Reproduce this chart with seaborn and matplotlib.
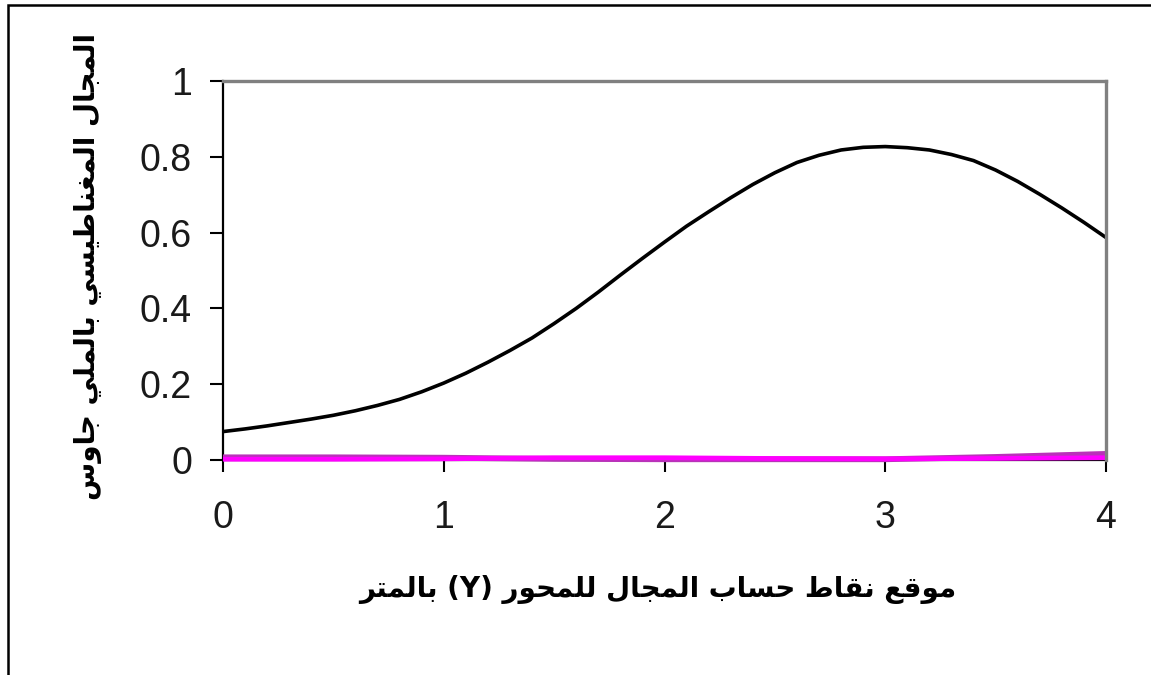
import numpy as np
import pandas as pd
import seaborn as sns
import matplotlib
matplotlib.use("Agg")
import matplotlib.pyplot as plt
from matplotlib.patches import Rectangle

# Position along the Y axis (m) and the computed magnetic field (mG)
y_pos = [0.0, 0.1, 0.2, 0.3, 0.4, 0.5, 0.6, 0.7, 0.8, 0.9, 1.0,
         1.1, 1.2, 1.3, 1.4, 1.5, 1.6, 1.7, 1.8, 1.9, 2.0,
         2.1, 2.2, 2.3, 2.4, 2.5, 2.6, 2.7, 2.8, 2.9, 3.0,
         3.1, 3.2, 3.3, 3.4, 3.5, 3.6, 3.7, 3.8, 3.9, 4.0]
field_total = [0.075, 0.082, 0.090, 0.099, 0.108, 0.118, 0.130, 0.144, 0.160, 0.180, 0.203,
               0.229, 0.258, 0.289, 0.322, 0.360, 0.400, 0.443, 0.488, 0.532, 0.575,
               0.617, 0.655, 0.692, 0.727, 0.758, 0.785, 0.804, 0.818, 0.825, 0.827,
               0.824, 0.818, 0.806, 0.790, 0.765, 0.735, 0.701, 0.665, 0.627, 0.587]

# Two small components that stay close to zero
comp_pos = [0.0, 0.5, 1.0, 1.5, 2.0, 2.5, 3.0, 3.5, 4.0]
field_b = [0.007, 0.007, 0.006, 0.003, 0.002, 0.002, 0.002, 0.008, 0.016]
field_c = [0.002, 0.002, 0.003, 0.006, 0.006, 0.004, 0.003, 0.004, 0.006]

x_ticks = [0, 1, 2, 3, 4]
y_ticks = [0, 0.2, 0.4, 0.6, 0.8, 1.0]
y_tick_labels = ["0", "0.2", "0.4", "0.6", "0.8", "1"]

x_title = "موقع نقاط حساب المجال للمحور (Y) بالمتر"
y_title = "المجال المغناطيسي بالملي جاوس"

# Arabic contextual forms: (isolated, final, initial, medial)
FORMS = {
    "ا": ("\uFE8D", "\uFE8E", None, None),
    "ب": ("\uFE8F", "\uFE90", "\uFE91", "\uFE92"),
    "ت": ("\uFE95", "\uFE96", "\uFE97", "\uFE98"),
    "ج": ("\uFE9D", "\uFE9E", "\uFE9F", "\uFEA0"),
    "ح": ("\uFEA1", "\uFEA2", "\uFEA3", "\uFEA4"),
    "ر": ("\uFEAD", "\uFEAE", None, None),
    "س": ("\uFEB1", "\uFEB2", "\uFEB3", "\uFEB4"),
    "ط": ("\uFEC1", "\uFEC2", "\uFEC3", "\uFEC4"),
    "ع": ("\uFEC9", "\uFECA", "\uFECB", "\uFECC"),
    "غ": ("\uFECD", "\uFECE", "\uFECF", "\uFED0"),
    "ق": ("\uFED5", "\uFED6", "\uFED7", "\uFED8"),
    "ل": ("\uFEDD", "\uFEDE", "\uFEDF", "\uFEE0"),
    "م": ("\uFEE1", "\uFEE2", "\uFEE3", "\uFEE4"),
    "ن": ("\uFEE5", "\uFEE6", "\uFEE7", "\uFEE8"),
    "و": ("\uFEED", "\uFEEE", None, None),
    "ي": ("\uFEF1", "\uFEF2", "\uFEF3", "\uFEF4"),
}


def shape_word(word):
    out = []
    n = len(word)
    for i, ch in enumerate(word):
        if ch not in FORMS:
            out.append(ch)
            continue
        iso, fin, ini, med = FORMS[ch]
        join_prev = i > 0 and word[i - 1] in FORMS and FORMS[word[i - 1]][2] is not None
        join_next = i < n - 1 and word[i + 1] in FORMS and ini is not None
        if join_prev and join_next:
            out.append(med)
        elif join_prev:
            out.append(fin)
        elif join_next:
            out.append(ini)
        else:
            out.append(iso)
    return "".join(out)


def rtl(text):
    tokens = []
    for tok in text.split(" "):
        if any(c in FORMS for c in tok):
            tokens.append(shape_word(tok)[::-1])
        else:
            tokens.append(tok)
    return " ".join(tokens[::-1])


sns.set_theme(style="ticks")
plt.rcParams["font.family"] = ["Liberation Sans", "DejaVu Sans"]

total_df = pd.DataFrame({"y": y_pos, "B": field_total})
comp_df = pd.DataFrame({
    "y": comp_pos * 2,
    "B": field_b + field_c,
    "series": ["b"] * len(comp_pos) + ["c"] * len(comp_pos),
})

fig = plt.figure(figsize=(11.51, 6.75), dpi=100)
fig.patch.set_facecolor("white")
ax = fig.add_axes([223 / 1151, 1 - 460 / 675, 883 / 1151, 379 / 675])

sns.lineplot(data=comp_df[comp_df["series"] == "b"], x="y", y="B", color="#B833B8",
             linewidth=4.2, ax=ax, legend=False, clip_on=False, solid_capstyle="butt")
sns.lineplot(data=comp_df[comp_df["series"] == "c"], x="y", y="B", color="#FF00FF",
             linewidth=3.4, ax=ax, legend=False, clip_on=False, solid_capstyle="butt")
sns.lineplot(data=total_df, x="y", y="B", color="black", linewidth=2.6, ax=ax,
             legend=False, clip_on=False, solid_capstyle="butt")

ax.set_xlim(0, 4)
ax.set_ylim(0, 1)
ax.set_xticks(x_ticks)
ax.set_xticklabels([str(t) for t in x_ticks])
ax.set_yticks(y_ticks)
ax.set_yticklabels(y_tick_labels)

for side in ["left", "bottom"]:
    ax.spines[side].set_color("black")
    ax.spines[side].set_linewidth(1.6)
    ax.spines[side].set_zorder(1)
for side in ["top", "right"]:
    ax.spines[side].set_visible(True)
    ax.spines[side].set_color("#808080")
    ax.spines[side].set_linewidth(2.4)

ax.tick_params(axis="y", direction="out", length=9.4, width=1.5, pad=13,
               labelsize=27, colors="black", labelcolor="#1a1a1a")
ax.tick_params(axis="x", direction="out", length=8.6, width=1.5, pad=20,
               labelsize=27, colors="black", labelcolor="#1a1a1a")

ax.set_xlabel(rtl(x_title), fontsize=20, fontweight="bold", family="DejaVu Sans",
              color="black", va="center")
ax.xaxis.set_label_coords((658 - 223) / 883, (460 - 590) / 379)
ax.set_ylabel(rtl(y_title), fontsize=20, fontweight="bold", family="DejaVu Sans",
              color="black", va="center")
ax.yaxis.set_label_coords((88 - 223) / 883, (460 - 267) / 379)

# Outer chart frame
fig.add_artist(Rectangle((8 / 1151, -0.2), 1.3, 1.2 - 5 / 675, transform=fig.transFigure,
                         fill=False, edgecolor="black", linewidth=1.8))

fig.savefig("out.png", dpi=100, facecolor="white")
